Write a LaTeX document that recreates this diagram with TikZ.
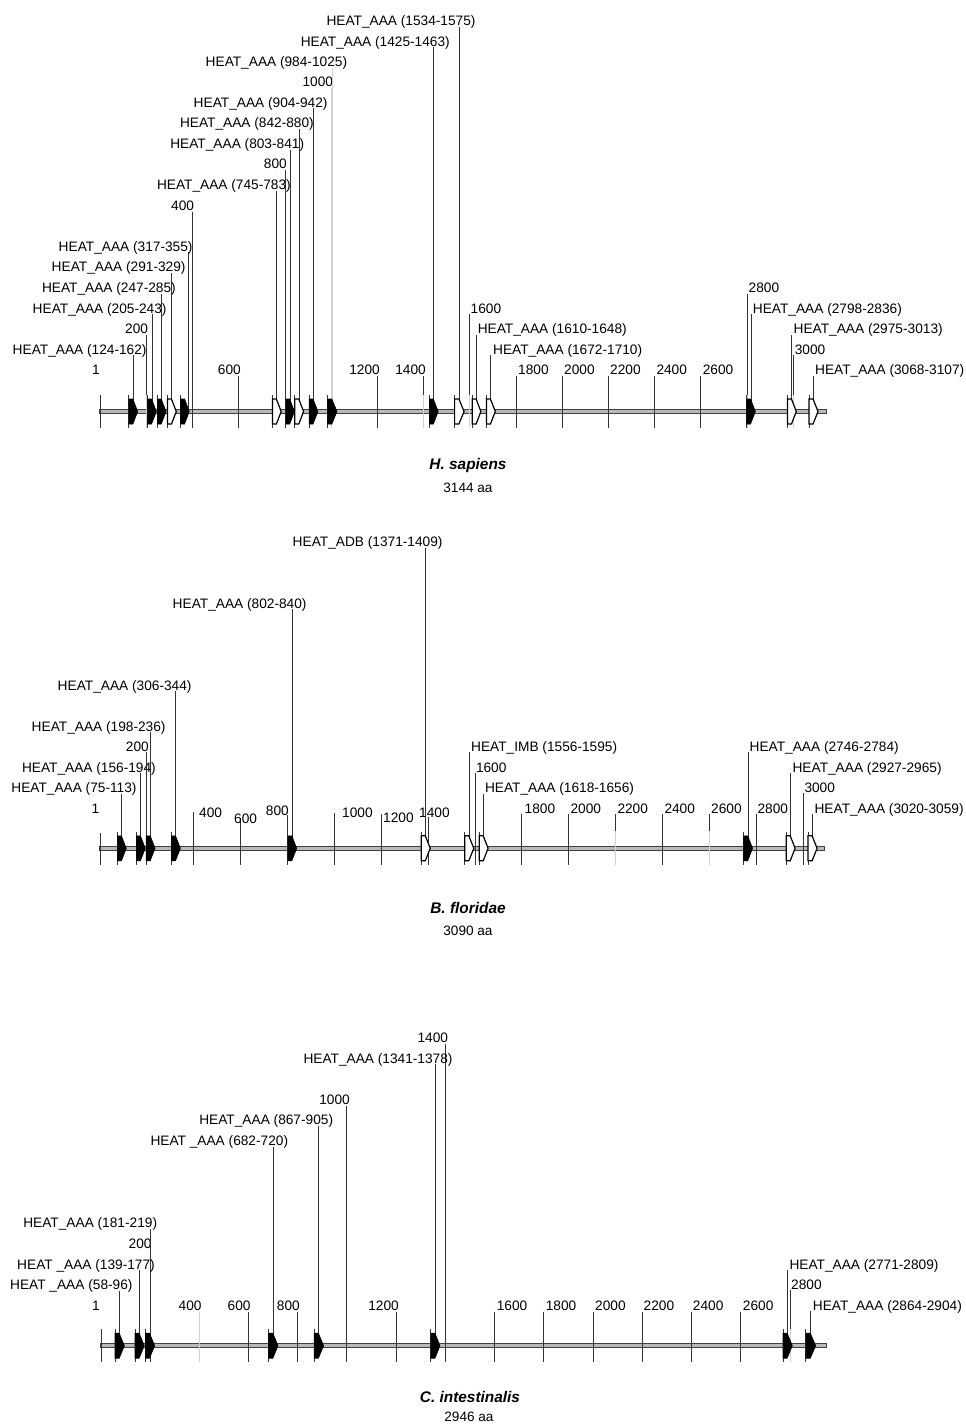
\documentclass[tikz,border=0pt]{standalone}
\usepackage{fontspec}
\setmainfont{Liberation Sans}
\newcommand\vln[5][ln]{\coordinate (#2t) at (#3,#4);\coordinate (#2b) at (#3,#5);\draw[#1] (#2t) -- (#2b);}
\newcommand\labE[4]{\node[lab,anchor=base east] (#1) at (#2,{#3+4.9}) {#4};}
\newcommand\labW[4]{\node[lab,anchor=base west] (#1) at (#2,{#3+4.9}) {#4};}
\newcommand\glyph[5]{\coordinate (#1) at (#2,#4);
 \draw[ln] ([yshift=16.5pt]#1) -- ([yshift=-16.5pt]#1);
 \path[#5] (#2,{#4-12.5}) -- ({#2+0.45*(#3-#2)},{#4-12.5}) -- (#3,#4) -- ({#2+0.45*(#3-#2)},{#4+12.5}) -- (#2,{#4+12.5}) -- cycle;}
\begin{document}
\begin{tikzpicture}[x=1pt,y=-1pt,
  lab/.style={inner sep=0pt, font=\fontsize{13.7}{16}\selectfont},
  ln/.style={line width=0.9pt, draw=black!80},
  lnl/.style={line width=0.9pt, draw=black!18},
  axisbar/.style={fill=gray!55, draw=black!75, line width=0.7pt},
  fg/.style={fill=black, draw=black, line width=0.6pt},
  hg/.style={fill=white, draw=black, line width=1.2pt},
  captxt/.style={inner sep=0pt, font=\fontsize{15.4}{18}\selectfont\bfseries\itshape},
  subtxt/.style={inner sep=0pt, font=\fontsize{13.6}{16}\selectfont}]
\useasboundingbox[fill=white] (0,0) rectangle (966,1425);
% ================= TOP PANEL: H. sapiens ==================
\draw[axisbar] (99,409.5) rectangle (826.7,413.5);
% ticks
\vln{A1}{100.5}{395}{428} \labE{lA1}{100}{370}{1}
\vln{A200}{146.5}{335}{395} \vln[lnl]{A200x}{146.5}{395}{428} \labE{lA200}{148.3}{329}{200}
\vln{A400}{192.7}{211.7}{428} \labE{lA400}{194.3}{205.7}{400}
\vln{A600}{238.9}{376}{428} \labE{lA600}{241}{370}{600}
\vln{A800}{285.1}{170}{395} \vln[lnl]{A800x}{285.1}{395}{428} \labE{lA800}{287}{164}{800}
\vln[lnl]{A1000}{331.3}{88}{428} \labE{lA1000}{333.3}{82}{1000}
\vln{A1200}{377.5}{376}{428} \labE{lA1200}{380}{370}{1200}
\vln{A1400}{423.7}{376}{395} \vln[lnl]{A1400x}{423.7}{395}{428} \labE{lA1400}{426}{370}{1400}
\vln{A1600}{469.9}{314}{395} \vln[lnl]{A1600x}{469.9}{395}{428} \labW{lA1600}{470.5}{308.2}{1600}
\vln{A1800}{516.1}{376}{428} \labW{lA1800}{518}{370}{1800}
\vln{A2000}{562.3}{376}{428} \labW{lA2000}{564}{370}{2000}
\vln{A2200}{608.5}{376}{428} \labW{lA2200}{610}{370}{2200}
\vln{A2400}{654.7}{376}{428} \labW{lA2400}{656.3}{370}{2400}
\vln{A2600}{700.9}{376}{428} \labW{lA2600}{702.6}{370}{2600}
\vln{A2800}{747.1}{294}{395} \vln[lnl]{A2800x}{747.1}{395}{428} \labW{lA2800}{748.5}{287.6}{2800}
\vln{A3000}{793.3}{355}{395} \vln[lnl]{A3000x}{793.3}{395}{428} \labW{lA3000}{794.6}{349.4}{3000}
% feature lines
\vln{Fa1}{133.3}{355.4}{411.5}
\vln{Fa2}{152.0}{314.2}{411.5}
\vln{Fa3}{161.7}{293.6}{411.5}
\vln{Fa4}{171.9}{273}{411.5}
\vln{Fa5}{188.7}{252.4}{411.5}
\vln{Fa6}{276.8}{191}{411.5}
\vln{Fa7}{290.2}{149.6}{411.5}
\vln{Fa8}{299.2}{129}{411.5}
\vln{Fa9}{313.5}{108.4}{411.5}
\vln[lnl]{Fa10}{332.3}{67.8}{411.5}
\vln{Fa11}{433.8}{47.2}{411.5}
\vln{Fa12}{459.4}{26.6}{411.5}
\vln{Fa13}{476.6}{335}{411.5}
\vln{Fa14}{490.9}{355.4}{411.5}
\vln{Fa15}{751.0}{314.2}{411.5}
\vln{Fa16}{791.9}{335}{411.5}
\vln{Fa17}{813.5}{376}{411.5}
% glyphs
\glyph{Ga1}{128.9}{137.7}{411.5}{fg}
\glyph{Ga2}{147.6}{156.4}{411.5}{fg}
\glyph{Ga3}{157.3}{166.1}{411.5}{fg}
\glyph{Ga4}{167.5}{176.3}{411.5}{hg}
\glyph{Ga5}{180.7}{189.3}{411.5}{fg}
\glyph{Ga6}{272.4}{281.2}{411.5}{hg}
\glyph{Ga7}{285.8}{294.5}{411.5}{fg}
\glyph{Ga8}{294.8}{303.6}{411.5}{hg}
\glyph{Ga9}{309.1}{317.9}{411.5}{fg}
\glyph{Ga10}{327.6}{337.0}{411.5}{fg}
\glyph{Ga11}{429.4}{438.2}{411.5}{fg}
\glyph{Ga12}{454.6}{464.1}{411.5}{hg}
\glyph{Ga13}{472.2}{480.9}{411.5}{hg}
\glyph{Ga14}{486.5}{495.3}{411.5}{hg}
\glyph{Ga15}{746.6}{755.4}{411.5}{fg}
\glyph{Ga16}{787.5}{796.3}{411.5}{hg}
\glyph{Ga17}{809.0}{818.0}{411.5}{hg}
% feature labels
\labE{La1}{146.7}{349.4}{HEAT\_AAA (124-162)}
\labE{La2}{166.7}{308.2}{HEAT\_AAA (205-243)}
\labE{La3}{176}{287.6}{HEAT\_AAA (247-285)}
\labE{La4}{185.7}{267}{HEAT\_AAA (291-329)}
\labE{La5}{192.7}{246.4}{HEAT\_AAA (317-355)}
\labE{La6}{291}{185}{HEAT\_AAA (745-783)}
\labE{La7}{304.3}{143.6}{HEAT\_AAA (803-841)}
\labE{La8}{314}{123}{HEAT\_AAA (842-880)}
\labE{La9}{327.7}{102.4}{HEAT\_AAA (904-942)}
\labE{La10}{347.3}{61.8}{HEAT\_AAA (984-1025)}
\labE{La11}{450}{41.2}{HEAT\_AAA (1425-1463)}
\labE{La12}{475.7}{20.6}{HEAT\_AAA (1534-1575)}
\labW{La13}{477.6}{329}{HEAT\_AAA (1610-1648)}
\labW{La14}{493}{349.4}{HEAT\_AAA (1672-1710)}
\labW{La15}{752.7}{308.2}{HEAT\_AAA (2798-2836)}
\labW{La16}{793.5}{329}{HEAT\_AAA (2975-3013)}
\labW{La17}{815}{370}{HEAT\_AAA (3068-3107)}
\node[captxt] (capA) at (468,466) {H. sapiens};
\node[subtxt] (subA) at (468,487.7) {3144 aa};
% ================= MIDDLE PANEL: B. floridae ==================
\draw[axisbar] (99,846.3) rectangle (824.4,850.3);
\vln{B1}{100}{833}{865} \labE{lB1}{99.5}{808.3}{1}
\vln{B200}{146.7}{752.3}{865} \labE{lB200}{149}{746.3}{200}
\vln{B400}{193.6}{811.7}{865} \labW{lB400}{199}{812.3}{400}
\vln{B600}{240.5}{818}{865} \labW{lB600}{234}{818.3}{600}
\vln{B800}{287.4}{815}{865} \labE{lB800}{289}{810.7}{800}
\vln{B1000}{334.3}{813.3}{865} \labW{lB1000}{342}{812.3}{1000}
\vln{B1200}{381.2}{814.3}{865} \labW{lB1200}{383}{817.7}{1200}
\vln{B1400}{428.1}{816.7}{865} \labW{lB1400}{419}{812.3}{1400}
\vln{B1600}{475}{773.3}{865} \labW{lB1600}{475.8}{767.3}{1600}
\vln{B1800}{521.9}{814.3}{865} \labW{lB1800}{524.5}{808.3}{1800}
\vln{B2000}{568.8}{814.3}{865} \labW{lB2000}{570.4}{808.3}{2000}
\vln{B2200}{615.7}{814.3}{831} \vln[lnl]{B2200x}{615.7}{831}{865} \labW{lB2200}{617.3}{808.3}{2200}
\vln{B2400}{662.6}{814.3}{865} \labW{lB2400}{664.3}{808.3}{2400}
\vln{B2600}{709.5}{814.3}{831} \vln[lnl]{B2600x}{709.5}{831}{865} \labW{lB2600}{711}{808.3}{2600}
\vln{B2800}{756.4}{814.3}{865} \labW{lB2800}{757.4}{808.3}{2800}
\vln{B3000}{803.3}{793.3}{865} \labW{lB3000}{804.3}{787.8}{3000}
\vln{Fb1}{121.9}{793.8}{848.3}
\vln{Fb2}{140.8}{773.3}{848.3}
\vln{Fb3}{150.7}{732.3}{848.3}
\vln{Fb4}{175.9}{691.3}{848.3}
\vln{Fb5}{292.3}{609.3}{848.3}
\vln{Fb6}{425.7}{547.8}{848.3}
\vln{Fb7}{469.3}{752.3}{848.3}
\vln{Fb8}{483.7}{793.8}{848.3}
\vln{Fb9}{748.2}{752.3}{848.3}
\vln{Fb10}{790.6}{773.3}{848.3}
\vln{Fb11}{812.6}{814.3}{848.3}
\glyph{Gb1}{117.4}{126.3}{848.3}{fg}
\glyph{Gb2}{136.4}{145.3}{848.3}{fg}
\glyph{Gb3}{146.2}{155.1}{848.3}{fg}
\glyph{Gb4}{171.5}{180.4}{848.3}{fg}
\glyph{Gb5}{287.8}{296.7}{848.3}{fg}
\glyph{Gb6}{421.3}{430.2}{848.3}{hg}
\glyph{Gb7}{464.7}{473.8}{848.3}{hg}
\glyph{Gb8}{479.2}{488.1}{848.3}{hg}
\glyph{Gb9}{743.7}{752.6}{848.3}{fg}
\glyph{Gb10}{786.2}{795.1}{848.3}{hg}
\glyph{Gb11}{808.0}{817.1}{848.3}{hg}
\labE{Lb1}{136.7}{787.8}{HEAT\_AAA (75-113)}
\labE{Lb2}{156}{767.3}{HEAT\_AAA (156-194)}
\labE{Lb3}{165.7}{726.3}{HEAT\_AAA (198-236)}
\labE{Lb4}{191.7}{685.3}{HEAT\_AAA (306-344)}
\labE{Lb5}{306.7}{603.3}{HEAT\_AAA (802-840)}
\labE{Lb6}{442.7}{541.8}{HEAT\_ADB (1371-1409)}
\labW{Lb7}{471}{746.3}{HEAT\_IMB (1556-1595)}
\labW{Lb8}{484.8}{787.8}{HEAT\_AAA (1618-1656)}
\labW{Lb9}{749.5}{746.3}{HEAT\_AAA (2746-2784)}
\labW{Lb10}{792.4}{767.3}{HEAT\_AAA (2927-2965)}
\labW{Lb11}{814.4}{808.3}{HEAT\_AAA (3020-3059)}
\node[captxt] (capB) at (468,908) {B. floridae};
\node[subtxt] (subB) at (468,931) {3090 aa};
% ================= BOTTOM PANEL: C. intestinalis ==================
\draw[axisbar] (100,1343.7) rectangle (826.1,1347.7);
\vln{C1}{101}{1329.3}{1362} \labE{lC1}{100}{1305.3}{1}
\vln{C200}{150}{1250}{1362} \labE{lC200}{151.7}{1243.5}{200}
\vln[lnl]{C400}{199.2}{1311.7}{1362} \labE{lC400}{201.7}{1305.3}{400}
\vln{C600}{248.5}{1311.7}{1362} \labE{lC600}{250.7}{1305.3}{600}
\vln{C800}{297.7}{1311.7}{1362} \labE{lC800}{300}{1305.3}{800}
\vln{C1000}{346.9}{1106}{1362} \labE{lC1000}{350}{1099.3}{1000}
\vln{C1200}{396.2}{1311.7}{1362} \labE{lC1200}{399}{1305.3}{1200}
\vln{C1400}{445.4}{1044}{1362} \labE{lC1400}{448.3}{1037.5}{1400}
\vln{C1600}{494.7}{1311.7}{1362} \labW{lC1600}{496.6}{1305.3}{1600}
\vln{C1800}{543.9}{1311.7}{1362} \labW{lC1800}{545.6}{1305.3}{1800}
\vln{C2000}{593.1}{1311.7}{1362} \labW{lC2000}{595}{1305.3}{2000}
\vln{C2200}{642.4}{1311.7}{1362} \labW{lC2200}{643.5}{1305.3}{2200}
\vln{C2400}{691.6}{1311.7}{1362} \labW{lC2400}{692.7}{1305.3}{2400}
\vln{C2600}{740.9}{1311.7}{1362} \labW{lC2600}{742.7}{1305.3}{2600}
\vln{C2800}{790.1}{1290}{1329} \vln[lnl]{C2800x}{790.1}{1329}{1362} \labW{lC2800}{791}{1284.7}{2800}
\vln{Fc1}{119.7}{1290.7}{1345.7}
\vln{Fc2}{139.7}{1270.1}{1345.7}
\vln{Fc3}{150.0}{1228.9}{1345.7}
\vln{Fc4}{273.3}{1146.5}{1345.7}
\vln{Fc5}{318.9}{1125.9}{1345.7}
\vln{Fc6}{435.5}{1064.1}{1345.7}
\vln{Fc7}{787.6}{1270.1}{1345.7}
\vln{Fc8}{810.8}{1311.3}{1345.7}
\glyph{Gc1}{115.0}{124.4}{1345.7}{fg}
\glyph{Gc2}{135.0}{144.3}{1345.7}{fg}
\glyph{Gc3}{145.3}{154.7}{1345.7}{fg}
\glyph{Gc4}{268.7}{278.0}{1345.7}{fg}
\glyph{Gc5}{314.2}{323.6}{1345.7}{fg}
\glyph{Gc6}{430.9}{440.0}{1345.7}{fg}
\glyph{Gc7}{783.0}{792.3}{1345.7}{fg}
\glyph{Gc8}{805.9}{815.7}{1345.7}{fg}
\labE{Lc1}{132.7}{1284.7}{HEAT \_AAA (58-96)}
\labE{Lc2}{155}{1264.1}{HEAT \_AAA (139-177)}
\labE{Lc3}{157.3}{1222.9}{HEAT\_AAA (181-219)}
\labE{Lc4}{288.3}{1140.5}{HEAT \_AAA (682-720)}
\labE{Lc5}{333.3}{1119.9}{HEAT\_AAA (867-905)}
\labE{Lc6}{452.7}{1058.1}{HEAT\_AAA (1341-1378)}
\labW{Lc7}{789.3}{1264.1}{HEAT\_AAA (2771-2809)}
\labW{Lc8}{812.7}{1305.3}{HEAT\_AAA (2864-2904)}
\node[captxt] (capC) at (470,1396.7) {C. intestinalis};
\node[subtxt] (subC) at (469,1417.3) {2946 aa};
\end{tikzpicture}
\end{document}
